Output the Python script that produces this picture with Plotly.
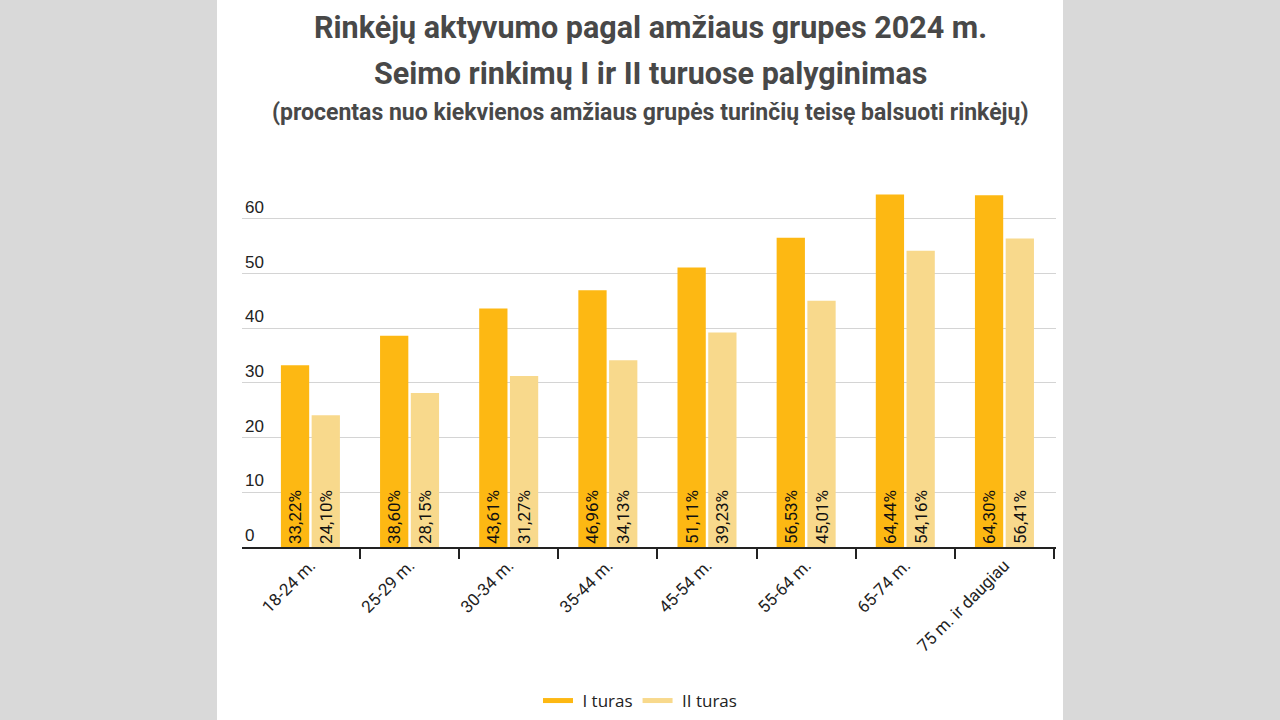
import plotly.graph_objects as go

categories = ["18-24 m.", "25-29 m.", "30-34 m.", "35-44 m.", "45-54 m.", "55-64 m.", "65-74 m.", "75 m. ir daugiau"]
turas_1 = [33.22, 38.60, 43.61, 46.96, 51.11, 56.53, 64.44, 64.30]
turas_2 = [24.10, 28.15, 31.27, 34.13, 39.23, 45.01, 54.16, 56.41]
series_names = ["I turas", "II turas"]
y_ticks = [0, 10, 20, 30, 40, 50, 60]

C1 = "#FDB813"
C2 = "#F8D98C"

def fmt(v):
    return f"{v:.2f}".replace(".", ",") + "%"

fig = go.Figure()
for name, vals, col in [(series_names[0], turas_1, C1), (series_names[1], turas_2, C2)]:
    fig.add_trace(go.Bar(
        x=categories, y=vals, name=name, marker=dict(color=col, line=dict(width=0)),
        text=[fmt(v) for v in vals], textposition="inside", insidetextanchor="start",
        textangle=-90, textfont=dict(family="Roboto", size=17, color="#111111"),
        showlegend=False, cliponaxis=False, hoverinfo="skip",
    ))
    fig.add_trace(go.Scatter(
        x=[None], y=[None], mode="lines", name=" " + name,
        line=dict(color=col, width=5), showlegend=True,
    ))

L, R, T, B = 242, 224, 186, 173
PW, PH = 1280 - L - R, 720 - T - B

fig.update_layout(
    width=1280, height=720,
    paper_bgcolor="#d9d9d9", plot_bgcolor="white",
    margin=dict(l=L, r=R, t=T, b=B),
    barmode="group", bargap=0.38, bargroupgap=0.08,
    shapes=[dict(type="rect", xref="paper", yref="paper", x0=(217 - L) / PW, x1=(1063 - L) / PW,
                 y0=-B / PH - 0.01, y1=(720 - B) / PH + 0.01, fillcolor="white",
                 line=dict(width=0), layer="below")],
    legend=dict(orientation="h", x=0.5, xanchor="center", xref="container",
                y=(720 - 701) / 720, yref="container", yanchor="middle",
                font=dict(family="Open Sans", size=17, color="#222"),
                bgcolor="rgba(0,0,0,0)", itemwidth=30),
    font=dict(family="Roboto", color="#222"),
)
fig.update_xaxes(
    type="category", range=[-0.69, 7.52], tickangle=-45, tickson="boundaries",
    ticks="outside", ticklen=10, tickwidth=2, tickcolor="#222",
    showline=True, linecolor="#222", linewidth=2, showgrid=False,
    tickfont=dict(family="Roboto", size=17, color="#222"),
)
fig.update_yaxes(
    range=[0, 66], tickvals=y_ticks, showgrid=True, gridcolor="#d4d4d4", gridwidth=1,
    ticklabelposition="inside top", tickfont=dict(family="Liberation Sans", size=17, color="#222"),
    zeroline=False, showline=False, ticks="",
)

title_lines = [
    ("Rinkėjų aktyvumo pagal amžiaus grupes 2024 m.", 28, 30.5),
    ("Seimo rinkimų I ir II turuose palyginimas", 73, 30.5),
    ("(procentas nuo kiekvienos amžiaus grupės turinčių teisę balsuoti rinkėjų)", 113, 23),
]
for txt, ypix, size in title_lines:
    fig.add_annotation(text=f"<b>{txt}</b>", xref="paper", yref="paper",
                       x=(650 - L) / PW, y=(720 - B - ypix) / PH, xanchor="center", yanchor="middle",
                       showarrow=False, font=dict(family="Roboto", size=size, color="#484848"))

fig.write_html("out.html")
